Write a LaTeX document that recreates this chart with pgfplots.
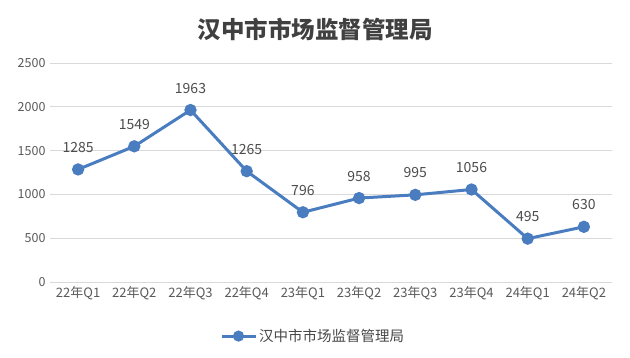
\documentclass[border=0pt]{standalone}
\usepackage{pgfplots}
\pgfplotsset{compat=1.18}
\usepackage{fontspec}
\setmainfont{Noto Sans CJK SC}
\newfontfamily\cjk{Noto Sans CJK SC}
\definecolor{linecol}{RGB}{74,124,192}
\definecolor{gridcol}{RGB}{217,217,217}
\definecolor{txt}{RGB}{89,89,89}
\begin{document}
\begin{tikzpicture}[x=1pt,y=1pt]
\useasboundingbox (0,0) rectangle (630,358);
\node[font={\cjk\bfseries\fontsize{23.5}{27}\selectfont}, text=black!75] at (315,329) {汉中市市场监督管理局};
\begin{axis}[
  at={(50pt,76pt)}, anchor=south west,
  scale only axis, width=562pt, height=219pt,
  xmin=-0.5, xmax=9.5, ymin=0, ymax=2500,
  xtick={0,...,9},
  xticklabels={22年Q1,22年Q2,22年Q3,22年Q4,23年Q1,23年Q2,23年Q3,23年Q4,24年Q1,24年Q2},
  ytick={0,500,...,2500},
  ymajorgrids, grid style={gridcol, line width=0.8pt},
  axis line style={draw=none},
  axis x line*=bottom,
  x axis line style={gridcol, line width=0.8pt},
  tick style={draw=none},
  tick label style={font={\fontsize{12.5}{14}\selectfont}, text=txt},
  /pgf/number format/assume math mode=true,
  /pgf/number format/1000 sep={},
  yticklabel style={xshift=-1pt},
  xticklabel style={yshift=-1pt, font={\fontsize{13}{15}\selectfont}},
  nodes near coords,
  every node near coord/.append style={font={\fontsize{14}{16}\selectfont}, text=black!70, yshift=12pt},
  legend style={at={(0.468,-0.247)}, anchor=center, draw=none, fill=none,
    font={\fontsize{14.5}{17}\selectfont}, text=black!72,
    /tikz/every even column/.append style={column sep=0pt}},
  legend image code/.code={
    \draw[#1, mark repeat=2, mark phase=2, mark size=4pt] plot coordinates {(0pt,0pt) (17pt,0pt) (34pt,0pt)};
  },
]
\addplot[color=linecol, line width=3pt, mark=*, mark size=4.6pt, mark options={fill=linecol, draw=none, solid}]
coordinates {(0,1285)(1,1549)(2,1963)(3,1265)(4,796)(5,958)(6,995)(7,1056)(8,495)(9,630)};
\addlegendentry{汉中市市场监督管理局}
\end{axis}
\end{tikzpicture}
\end{document}
